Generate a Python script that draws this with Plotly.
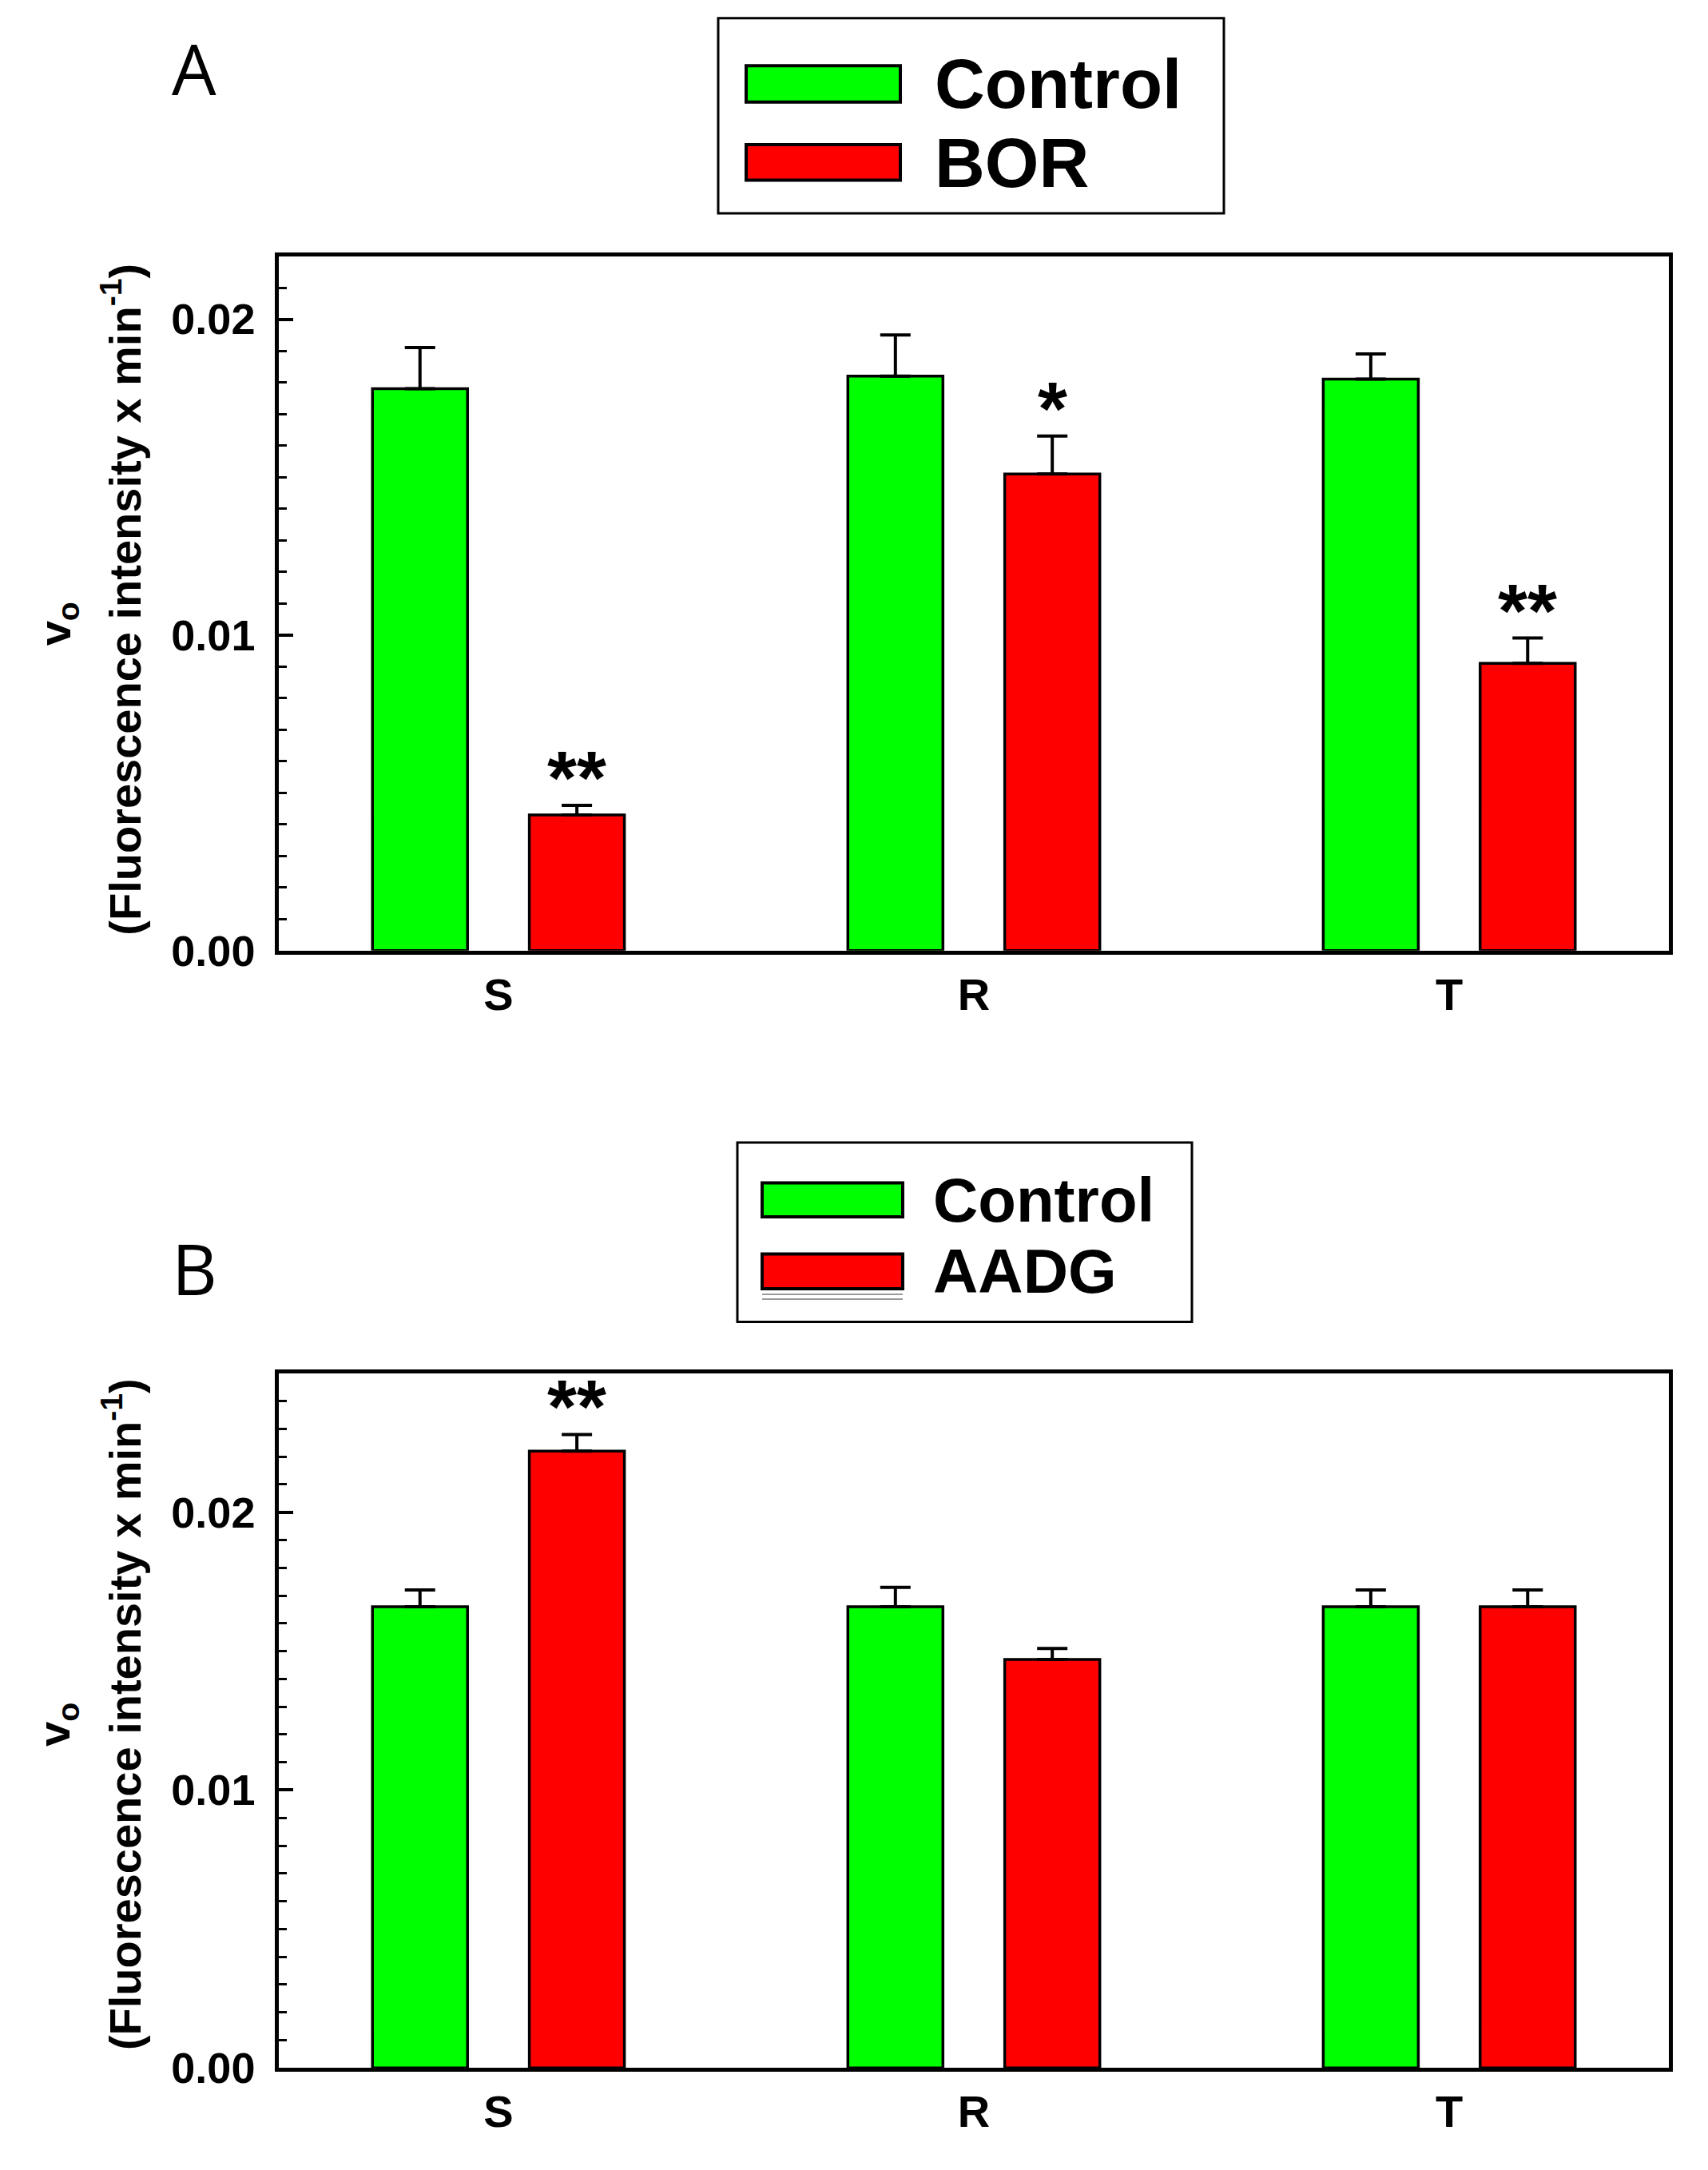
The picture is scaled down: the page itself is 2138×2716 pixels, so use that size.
import plotly.graph_objects as go

W, H = 2138, 2716

categories = ["S", "R", "T"]

# panel A
series_a = ["Control", "BOR"]
control_a = [0.0178, 0.0182, 0.0181]
control_a_err = [0.0013, 0.0013, 0.0008]
bor = [0.0043, 0.0151, 0.0091]
bor_err = [0.0003, 0.0012, 0.0008]
sig_a = ["**", "*", "**"]

# panel B
series_b = ["Control", "AADG"]
control_b = [0.0166, 0.0166, 0.0166]
control_b_err = [0.0006, 0.0007, 0.0006]
aadg = [0.0222, 0.0147, 0.0166]
aadg_err = [0.0006, 0.0004, 0.0006]
sig_b = ["**", "", ""]

colors = ["#00FF00", "#FF0000"]
font = "Liberation Sans, Arial, sans-serif"


def px(x):
    return x / W


def py(y):
    return 1 - y / H


fig = go.Figure()

BAR_W = 0.2
OFFSETS = [-0.265, 0.065]


def add_bars(xa, ya, names, vals, errs):
    for name, v, e, c, off in zip(names, vals, errs, colors, OFFSETS):
        fig.add_trace(go.Bar(
            x=categories, y=v, name=name, xaxis=xa, yaxis=ya,
            width=BAR_W, offset=off, showlegend=False,
            marker=dict(color=c, line=dict(color="black", width=3.5)),
            error_y=dict(type="data", array=e, symmetric=False, arrayminus=[0] * len(e),
                         color="black", thickness=4, width=19),
        ))


add_bars("x", "y", series_a, [control_a, bor], [control_a_err, bor_err])
add_bars("x2", "y2", series_b, [control_b, aadg], [control_b_err, aadg_err])

xdom = [px(341), px(2081)]
ax_common = dict(showline=True, linewidth=4.5, linecolor="black", mirror=True)
xcommon = dict(ax_common, ticks="", range=[-0.462, 2.462], showgrid=False,
               tickfont=dict(family=font, size=56, color="black", weight="bold"),
               ticklabelstandoff=2)
ycommon = dict(ax_common, ticks="inside", ticklen=18, tickwidth=4, tickcolor="black",
               dtick=0.01, tick0=0, tickformat=".2f", showgrid=False, zeroline=False,
               tickfont=dict(family=font, size=54, color="black", weight="bold"),
               ticklabelstandoff=14,
               minor=dict(ticks="inside", dtick=0.001, ticklen=10, tickwidth=3,
                          tickcolor="black", showgrid=False))

A_TOP, A_BOT = 316, 1195
B_TOP, B_BOT = 1730, 2609

fig.update_layout(
    width=W, height=H,
    margin=dict(l=0, r=0, t=0, b=0),
    paper_bgcolor="white", plot_bgcolor="white",
    barmode="overlay",
    showlegend=False,
    xaxis=dict(xcommon, domain=xdom, anchor="y"),
    yaxis=dict(ycommon, domain=[py(A_BOT), py(A_TOP)], range=[0, 0.022], anchor="x"),
    xaxis2=dict(xcommon, domain=xdom, anchor="y2"),
    yaxis2=dict(ycommon, domain=[py(B_BOT), py(B_TOP)], range=[0, 0.025], anchor="x2"),
)

# significance marks over the treated bars
for xa, ya, vals, errs, sig in [("x", "y", bor, bor_err, sig_a), ("x2", "y2", aadg, aadg_err, sig_b)]:
    for i, s in enumerate(sig):
        if not s:
            continue
        fig.add_annotation(x=i + OFFSETS[1] + BAR_W / 2, y=vals[i] + errs[i], xref=xa, yref=ya,
                           text=s, showarrow=False, xanchor="center", yanchor="bottom", yshift=-20,
                           font=dict(family=font, size=95, color="black", weight="bold"))


def add_legend(box, names, rows, sym_x, text_x, size):
    x0, y0, x1, y1 = box
    fig.add_shape(type="rect", xref="paper", yref="paper", x0=px(x0), x1=px(x1),
                  y0=py(y1), y1=py(y0), line=dict(color="black", width=3), fillcolor="white")
    for name, c, (ra, rb) in zip(names, colors, rows):
        fig.add_shape(type="rect", xref="paper", yref="paper", x0=px(sym_x[0]), x1=px(sym_x[1]),
                      y0=py(rb), y1=py(ra), line=dict(color="black", width=4), fillcolor=c)
        fig.add_annotation(x=px(text_x), y=py((ra + rb) / 2), xref="paper", yref="paper",
                           text=name, showarrow=False, xanchor="left", yanchor="middle",
                           font=dict(family=font, size=size, color="black", weight="bold"))


add_legend((891, 15, 1524, 262), series_a, [(75, 121), (175, 220)], (926, 1119), 1160, 87)
add_legend((915, 1438, 1484, 1665), series_b, [(1489, 1532), (1579, 1623)], (946, 1122), 1158, 78)
# faint double line under the AADG key
for yy in (1630, 1636):
    fig.add_shape(type="line", xref="paper", yref="paper", x0=px(946), x1=px(1122),
                  y0=py(yy), y1=py(yy), line=dict(color="#999999", width=2))

# y titles and panel letters
for vy, fy in ((782, 751), (2175, 2162)):
    fig.add_annotation(x=px(64), y=py(vy), xref="paper", yref="paper", text="v<sub>o</sub>",
                       showarrow=False, textangle=-90, xanchor="center", yanchor="middle",
                       font=dict(family=font, size=56, color="black", weight="bold"))
    fig.add_annotation(x=px(145), y=py(fy), xref="paper", yref="paper",
                       text="(Fluorescence intensity x min<sup>-1</sup>)",
                       showarrow=False, textangle=-90, xanchor="center", yanchor="middle",
                       font=dict(family=font, size=56, color="black", weight="bold"))

for letter, yc in (("A", 78), ("B", 1597)):
    fig.add_annotation(x=px(235), y=py(yc), xref="paper", yref="paper", text=letter,
                       showarrow=False, xanchor="center", yanchor="middle",
                       font=dict(family="Open Sans, sans-serif", size=88, color="black"))

fig.write_html("out.html")
